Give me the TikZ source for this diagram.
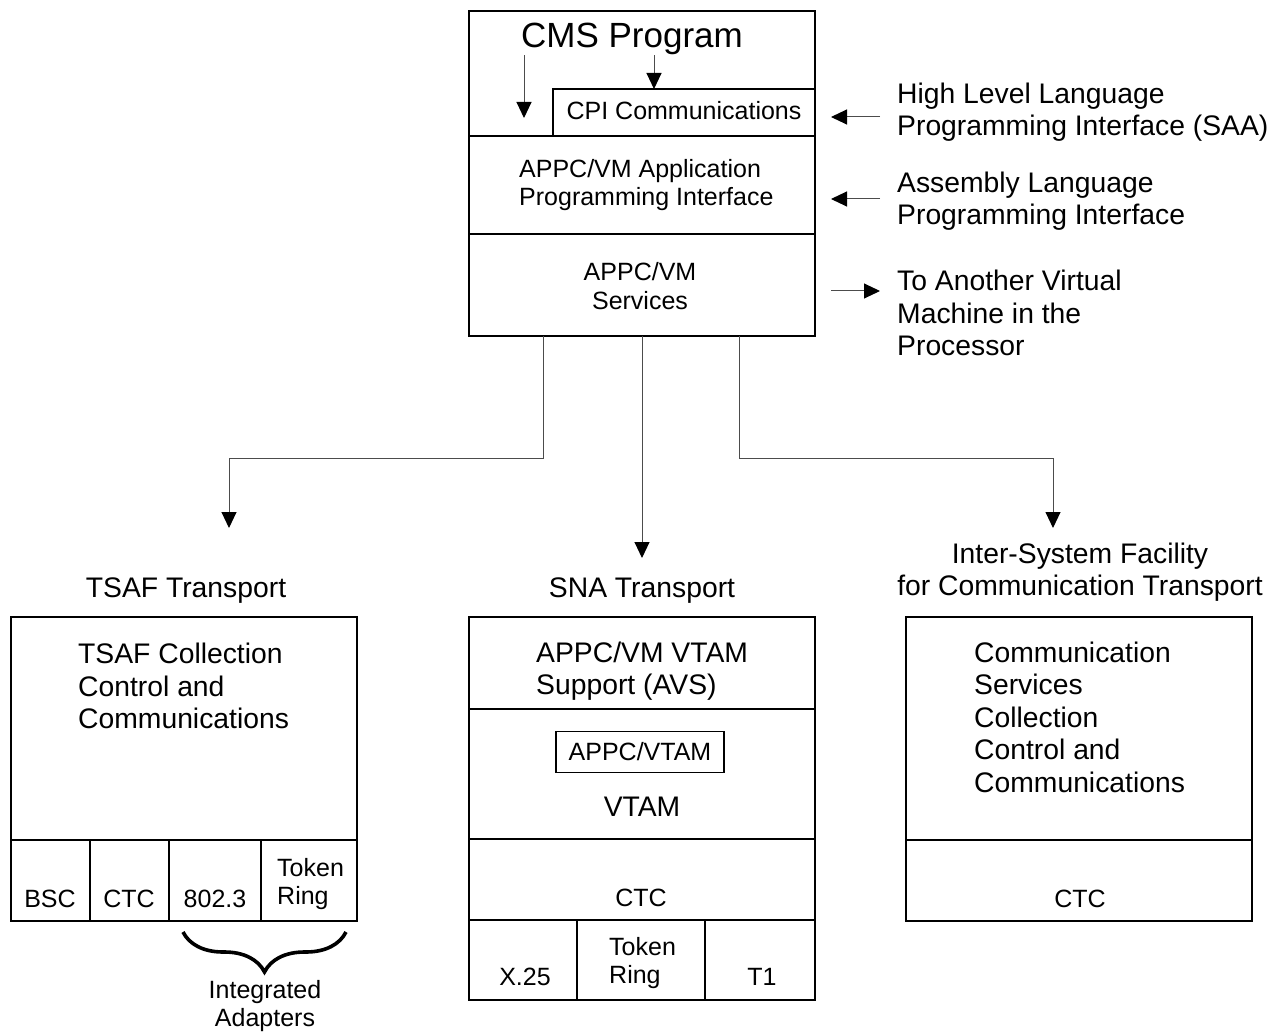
\documentclass[tikz,border=0pt]{standalone}
\usepackage{fontspec}
\setmainfont{Liberation Sans}
\usetikzlibrary{arrows.meta, positioning, calc, decorations.pathreplacing}

\newcommand{\bigtxt}{\fontsize{28.3}{32.5}\selectfont}
\newcommand{\smalltxt}{\fontsize{25}{28.5}\selectfont}

\tikzset{
  frame/.style={draw, line width=2.9pt},
  thinframe/.style={draw, line width=1.4pt},
  txt/.style={font=\bigtxt, inner sep=0pt},
  stxt/.style={font=\smalltxt, inner sep=0pt},
  flow/.style={draw=black!70, line width=1pt, -{Triangle[length=16pt,width=15pt,color=black]}},
}

\begin{document}
\begin{tikzpicture}[x=1pt, y=-1pt]
  \useasboundingbox (0,0) rectangle (1288,1032);

  % CMS program box
  \draw[frame] (469,11) rectangle (815,336);
  \draw[frame] (469,136) -- (815,136);
  \draw[frame] (469,234) -- (815,234);
  \draw[thinframe] (553,136) -- (553,89) -- (815,89);
  \node[font=\fontsize{35}{40}\selectfont, inner sep=0pt, anchor=base] (cmsprog) at (632,48) {CMS Program};
  \node[stxt, anchor=base] (cpi) at (684,120) {CPI Communications};
  \node[stxt, anchor=west, align=left] (vmapi) at (519,185) {APPC/VM Application\\Programming Interface};
  \node[stxt, align=center] (vmsvc) at (640,286) {APPC/VM\\Services};
  \coordinate (cpitop) at (654,89);
  \coordinate (apitop) at (524,118);
  \draw[flow] (cmsprog.south -| apitop) -- (apitop);
  \draw[flow] (cmsprog.south -| cpitop) -- (cpitop);

  % interfaces on the right
  \node[txt, anchor=west, align=left] (hll) at (897,112) {High Level Language\\Programming Interface (SAA)};
  \node[txt, anchor=west, align=left] (asm) at (897,201) {Assembly Language\\Programming Interface};
  \node[txt, anchor=west, align=left] (tovm) at (897,313) {To Another Virtual\\Machine in the\\Processor};
  \coordinate (hlltail) at (880,117);  \coordinate (hllhead) at (831,117);
  \coordinate (asmtail) at (880,199);  \coordinate (asmhead) at (831,199);
  \coordinate (vmtail) at (831,291);   \coordinate (vmhead) at (880,291);
  \draw[flow] (hlltail) -- (hllhead);
  \draw[flow] (asmtail) -- (asmhead);
  \draw[flow] (vmtail) -- (vmhead);

  % transports
  \coordinate (outL) at (543,336); \coordinate (outM) at (642,336); \coordinate (outR) at (739,336);
  \coordinate (inL) at (229,528);  \coordinate (inM) at (642,558);  \coordinate (inR) at (1053,528);
  \draw[flow] (outL) -- (543,458) -| (inL);
  \draw[flow] (outM) -- (inM);
  \draw[flow] (outR) -- (739,458) -| (inR);

  \node[txt, anchor=base] (tsafhd) at (186,597) {TSAF Transport};
  \node[txt, anchor=base] (snahd) at (642,597) {SNA Transport};
  \node[txt, align=center] (isfhd) at (1080,572) {Inter-System Facility\\for Communication Transport};

  % TSAF
  \draw[frame] (11,617) rectangle (357,921);
  \draw[frame] (11,840) -- (357,840);
  \foreach \x in {90,169,261}
    \draw[frame] (\x,840) -- (\x,921);
  \node[txt, anchor=west, align=left] (tsafcc) at (78,686) {TSAF Collection\\Control and\\Communications};
  \node[stxt, anchor=base] (bsc) at (50,907) {BSC};
  \node[stxt, anchor=base] (tsafctc) at (129,907) {CTC};
  \node[stxt, anchor=base] (e8023) at (215,907) {802.3};
  \node[stxt, anchor=west, align=left] (tsaftr) at (277,884) {Token\\Ring};
  \draw[line width=3.6pt, decorate, decoration={brace, mirror, amplitude=40pt}] (183,932) -- (346,932);
  \node[stxt, align=center] (intadp) at (265,1006) {Integrated\\Adapters};

  % SNA
  \draw[frame] (469,617) rectangle (815,1000);
  \foreach \y in {709,839,920}
    \draw[frame] (469,\y) -- (815,\y);
  \foreach \x in {577,705}
    \draw[frame] (\x,920) -- (\x,1000);
  \node[txt, anchor=west, align=left] (avs) at (536,671) {APPC/VM VTAM\\Support (AVS)};
  \node[stxt, thinframe, minimum width=168pt, minimum height=41pt] (avtam) at (640,752) {APPC/VTAM};
  \node[txt, anchor=base] (vtam) at (642,816) {VTAM};
  \node[stxt, anchor=base] (snactc) at (641,906) {CTC};
  \node[stxt, anchor=base] (x25) at (525,985) {X.25};
  \node[stxt, anchor=west, align=left] (snatr) at (609,963) {Token\\Ring};
  \node[stxt, anchor=base] (t1) at (762,985) {T1};

  % ISFC
  \draw[frame] (906,617) rectangle (1252,921);
  \draw[frame] (906,840) -- (1252,840);
  \node[txt, anchor=west, align=left] (csccc) at (974,717) {Communication\\Services\\Collection\\Control and\\Communications};
  \node[stxt, anchor=base] (isfctc) at (1080,907) {CTC};
\end{tikzpicture}
\end{document}
